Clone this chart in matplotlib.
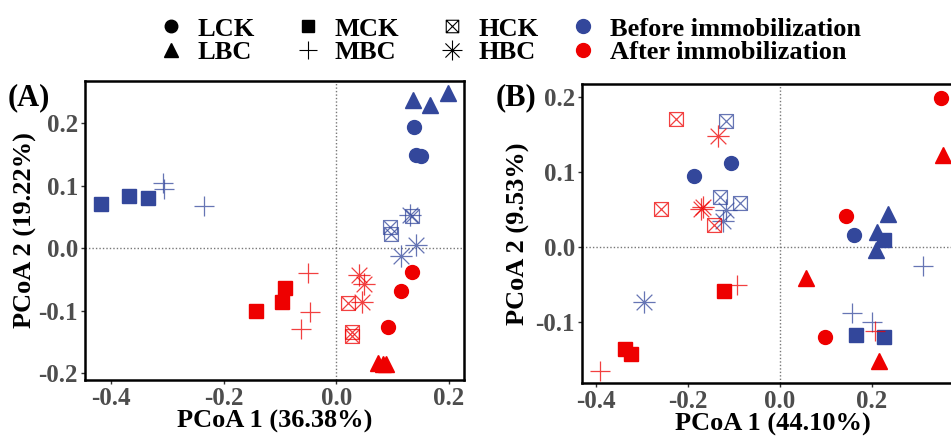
#!/usr/bin/env python3
"""
PCoA of samples before/after immobilization, panels (A) and (B)
"""

import matplotlib
matplotlib.use("Agg")
import matplotlib.pyplot as plt
from matplotlib.path import Path
from matplotlib.lines import Line2D

# treatment groups, same order in every list below
groups = ["LCK", "LBC", "MCK", "MBC", "HCK", "HBC"]

# panel A, before immobilization
a_before_x = [[0.139, 0.141, 0.150], [0.137, 0.167, 0.199], [-0.418, -0.368, -0.334],
              [-0.307, -0.305, -0.234], [0.095, 0.097, 0.135], [0.132, 0.141, 0.116]]
a_before_y = [[0.194, 0.149, 0.148], [0.237, 0.229, 0.248], [0.071, 0.084, 0.080],
              [0.104, 0.095, 0.067], [0.034, 0.023, 0.051], [0.053, 0.005, -0.013]]
# panel A, after immobilization
a_after_x = [[0.134, 0.115, 0.092], [0.075, 0.083, 0.089], [-0.142, -0.096, -0.090],
             [-0.050, -0.047, -0.062], [0.021, 0.028, 0.028], [0.040, 0.050, 0.045]]
a_after_y = [[-0.038, -0.069, -0.126], [-0.183, -0.186, -0.186], [-0.101, -0.086, -0.064],
             [-0.039, -0.102, -0.129], [-0.087, -0.134, -0.140], [-0.043, -0.057, -0.086]]

# panel B, before immobilization
b_before_x = [[-0.187, -0.107, 0.162], [0.235, 0.211, 0.209], [0.227, 0.165, 0.226],
              [0.310, 0.157, 0.201], [-0.117, -0.131, -0.087], [-0.296, -0.117, -0.124]]
b_before_y = [[0.094, 0.112, 0.015], [0.043, 0.019, -0.004], [0.009, -0.118, -0.121],
              [-0.026, -0.088, -0.101], [0.168, 0.066, 0.058], [-0.074, 0.049, 0.034]]
# panel B, after immobilization
b_after_x = [[0.349, 0.144, 0.097], [0.354, 0.056, 0.215], [-0.121, -0.336, -0.323],
             [-0.094, -0.392, 0.206], [-0.225, -0.258, -0.144], [-0.135, -0.171, -0.168]]
b_after_y = [[0.199, 0.041, -0.121], [0.122, -0.042, -0.153], [-0.059, -0.137, -0.143],
             [-0.051, -0.166, -0.113], [0.170, 0.050, 0.029], [0.147, 0.050, 0.053]]

a_xticks = [-0.4, -0.2, 0.0, 0.2]
a_yticks = [-0.2, -0.1, 0.0, 0.1, 0.2]
b_xticks = [-0.4, -0.2, 0.0, 0.2]
b_yticks = [-0.1, 0.0, 0.1, 0.2]

BLUE = "#33479b"
RED = "#ee0000"
SERIF = "Liberation Serif"

# ggplot-like shape 7 (square cross) and 8 (asterisk)
sq_cross = Path(
    [(-1, -1), (1, -1), (1, 1), (-1, 1), (-1, -1),
     (-1, -1), (1, 1), (-1, 1), (1, -1)],
    [Path.MOVETO, Path.LINETO, Path.LINETO, Path.LINETO, Path.CLOSEPOLY,
     Path.MOVETO, Path.LINETO, Path.MOVETO, Path.LINETO])
r = 0.7071
asterisk = Path(
    [(-1, 0), (1, 0), (0, -1), (0, 1), (-r, -r), (r, r), (-r, r), (r, -r)],
    [Path.MOVETO, Path.LINETO] * 4)

styles = {
    "LCK": dict(marker="o", ms=10, filled=True),
    "LBC": dict(marker="^", ms=11, filled=True),
    "MCK": dict(marker="s", ms=10, filled=True),
    "MBC": dict(marker="+", ms=15, filled=False),
    "HCK": dict(marker=sq_cross, ms=10, filled=False),
    "HBC": dict(marker=asterisk, ms=16, filled=False),
}


def draw_points(ax, xs, ys, color):
    for g, x, y in zip(groups, xs, ys):
        st = styles[g]
        if st["filled"]:
            ax.plot(x, y, ls="none", marker=st["marker"], ms=st["ms"],
                    color=color, mec=color, clip_on=False, zorder=3)
        else:
            ax.plot(x, y, ls="none", marker=st["marker"], ms=st["ms"],
                    mfc="none", mec=color, mew=0.9, alpha=0.75,
                    clip_on=False, zorder=3)


def style_axes(ax, xlim, ylim, xticks, yticks, xlabel, ylabel, ypad):
    ax.set_xlim(*xlim)
    ax.set_ylim(*ylim)
    ax.set_xticks(xticks)
    ax.set_yticks(yticks)
    ax.set_xticklabels([f"{t:.1f}" for t in xticks])
    ax.set_yticklabels([f"{t:.1f}" for t in yticks])
    ax.axhline(0, color="#777777", ls=(0, (1, 1.5)), lw=1.0, zorder=1)
    ax.axvline(0, color="#777777", ls=(0, (1, 1.5)), lw=1.0, zorder=1)
    for sp in ax.spines.values():
        sp.set_linewidth(1.8)
        sp.set_color("black")
    ax.tick_params(direction="out", length=3, width=1, color="#333333",
                   labelcolor="#4d4d4d", labelsize=18, pad=2)
    for lab in ax.get_xticklabels() + ax.get_yticklabels():
        lab.set_fontfamily(SERIF)
        lab.set_fontweight("bold")
    ax.set_xlabel(xlabel, fontsize=19, fontweight="bold", family=SERIF, labelpad=0)
    ax.set_ylabel(ylabel, fontsize=19, fontweight="bold", family=SERIF, labelpad=ypad)


fig = plt.figure(figsize=(9.51, 4.36), dpi=100)

ax_a = fig.add_axes([0.0894, 0.1284, 0.3985, 0.6858])
draw_points(ax_a, a_before_x, a_before_y, BLUE)
draw_points(ax_a, a_after_x, a_after_y, RED)
style_axes(ax_a, (-0.446, 0.227), (-0.211, 0.268), a_xticks, a_yticks,
           "PCoA 1 (36.38%)", "PCoA 2 (19.22%)", 1)

ax_b = fig.add_axes([0.612, 0.1216, 0.4017, 0.6857])
draw_points(ax_b, b_before_x, b_before_y, BLUE)
draw_points(ax_b, b_after_x, b_after_y, RED)
style_axes(ax_b, (-0.43, 0.40), (-0.182, 0.217), b_xticks, b_yticks,
           "PCoA 1 (44.10%)", "PCoA 2 (9.53%)", 4)

# panel tags
fig.text(0.008, 0.777, "(A)", fontsize=22, fontweight="bold", family=SERIF, va="center")
fig.text(0.521, 0.777, "(B)", fontsize=22, fontweight="bold", family=SERIF, va="center")

# shape legend (black) and colour legend
shape_handles = []
for g in groups:
    st = styles[g]
    if st["filled"]:
        h = Line2D([], [], ls="none", marker=st["marker"], ms=st["ms"] * 0.9,
                   color="black")
    else:
        h = Line2D([], [], ls="none", marker=st["marker"], ms=st["ms"] * 0.9,
                   mfc="none", mec="black", mew=0.8)
    shape_handles.append(h)
fig.legend(shape_handles, groups, ncol=3, loc="upper left",
           bbox_to_anchor=(0.147, 1.003), frameon=False,
           prop=dict(family=SERIF, weight="bold", size=19),
           handlelength=1.0, handletextpad=0.5, columnspacing=1.5,
           labelspacing=0.0, borderpad=0.2)

color_handles = [Line2D([], [], ls="none", marker="o", ms=10, color=BLUE),
                 Line2D([], [], ls="none", marker="o", ms=10, color=RED)]
fig.legend(color_handles, ["Before immobilization", "After immobilization"],
           loc="upper left", bbox_to_anchor=(0.580, 1.003), frameon=False,
           prop=dict(family=SERIF, weight="bold", size=19),
           handlelength=1.0, handletextpad=0.5, labelspacing=0.0, borderpad=0.2)

fig.savefig("out.png", dpi=100)
